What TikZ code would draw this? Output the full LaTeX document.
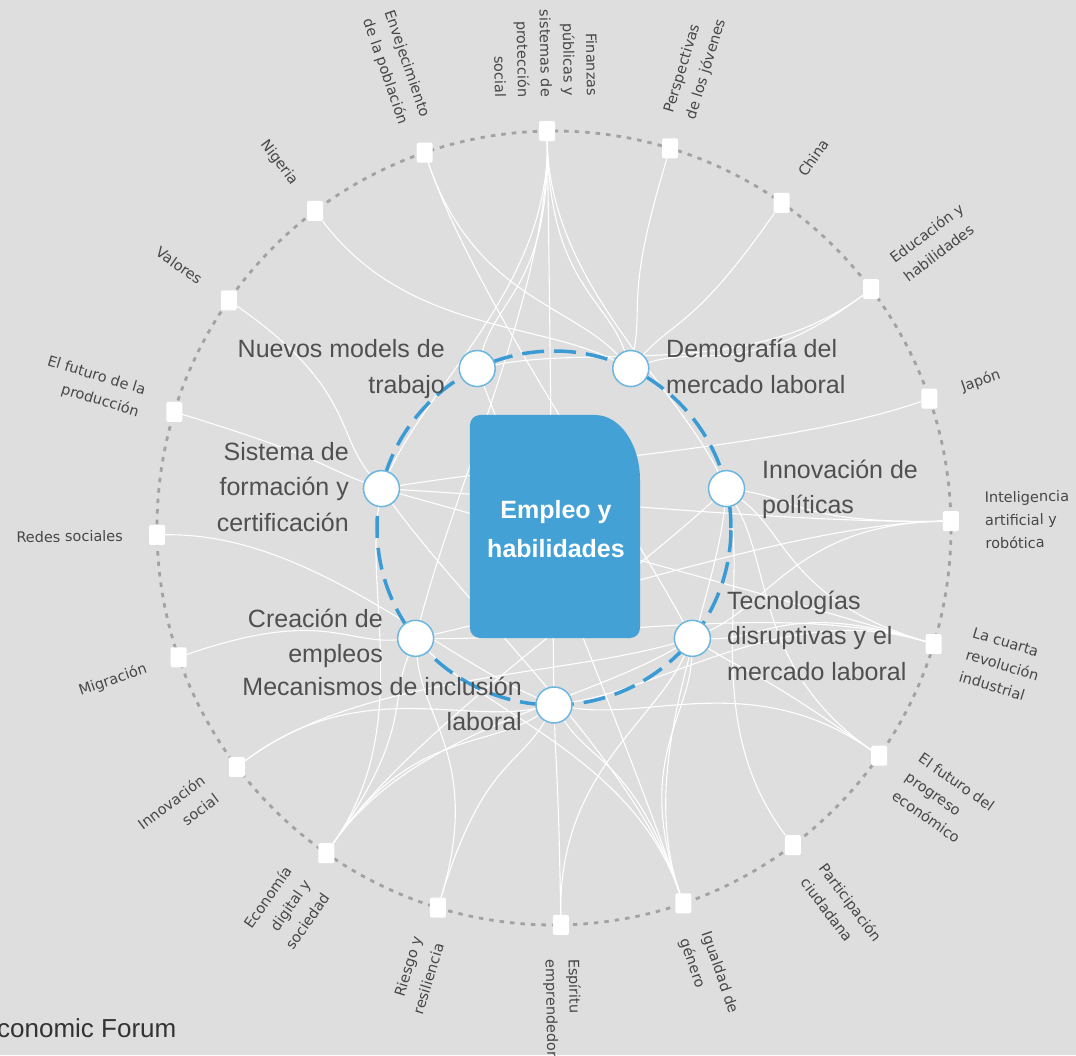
\documentclass[tikz,border=0pt]{standalone}
\usepackage{fontspec}
\setmainfont{Liberation Sans}
\newfontfamily\outerfont{DejaVu Sans}
\usetikzlibrary{calc}
\definecolor{bg}{HTML}{DEDEDE}
\definecolor{hubblue}{HTML}{43A1D5}
\definecolor{ringblue}{HTML}{3A9BD4}
\definecolor{circedge}{HTML}{6DB6E0}
\definecolor{dotgray}{HTML}{A2A2A2}
\definecolor{lbl}{HTML}{505050}
\definecolor{olbl}{HTML}{474747}
\pgfdeclarelayer{bglayer}
\pgfdeclarelayer{linklayer}
\pgfsetlayers{bglayer,linklayer,main}
\tikzset{
  onode/.style={rectangle, fill=white, minimum width=16pt, minimum height=20pt, inner sep=0pt, rounded corners=2pt},
  inode/.style={circle, fill=white, draw=circedge, line width=1.5pt, minimum size=36pt, inner sep=0pt},
  link/.style={draw=white, line width=1.1pt, line cap=round},
  olabR/.style={font=\outerfont\fontsize{14.5}{23}\selectfont, text=olbl, inner sep=0pt, anchor=west, align=left, rotate=#1},
  olabL/.style={font=\outerfont\fontsize{14.5}{23}\selectfont, text=olbl, inner sep=0pt, anchor=east, align=right, rotate=#1},
  ilabR/.style={font=\fontsize{25}{35.5}\selectfont, text=lbl, inner sep=0pt, anchor=west, align=left},
  ilabL/.style={font=\fontsize{25}{35.5}\selectfont, text=lbl, inner sep=0pt, anchor=east, align=right}
}
\begin{document}
\begin{tikzpicture}[x=1pt,y=1pt]
\useasboundingbox (-554,-527) rectangle (522,528);
\begin{pgfonlayer}{bglayer}
  \fill[bg] (-554,-527) rectangle (522,528);
  \draw[dotgray, line width=2.8pt, dash pattern=on 4.5pt off 6pt] (0,0) circle[radius=397];
\end{pgfonlayer}
\coordinate (c) at (0,0);

% dashed inner ring
\draw[ringblue, line width=3.5pt, dash pattern=on 22pt off 10pt] (c) circle[radius=177];

% hub box
\fill[hubblue] (-74,113) -- (41,113) arc[start angle=90,end angle=0,x radius=45,y radius=65]
  -- (86,-100) arc[start angle=0,end angle=-90,radius=10]
  -- (-74,-110) arc[start angle=270,end angle=180,radius=10]
  -- (-84,103) arc[start angle=180,end angle=90,radius=10] -- cycle;
\node[font=\bfseries\fontsize{25}{39}\selectfont, text=white, align=center, inner sep=0pt] (hub) at (2,-1.5) {Empleo y\\habilidades};

% inner nodes
\node[inode] (mec) at (-90:177) {};
\node[inode] (tec) at (-38.57:177) {};
\node[inode] (inn) at (12.86:177) {};
\node[inode] (dem) at (64.29:177) {};
\node[inode] (nue) at (115.71:177) {};
\node[inode] (sis) at (167.14:177) {};
\node[inode] (cre) at (218.57:177) {};

% inner labels
\node[ilabL] (lnue) at (-109,159) {Nuevos models de\\trabajo};
\node[ilabL] (lsis) at (-205,41) {Sistema de\\formación y\\certificación};
\node[ilabL] (lcre) at (-171,-110.5) {Creación de\\empleos};
\node[ilabL] (lmec) at (-32,-176) {Mecanismos de inclusión\\laboral};
\node[ilabR] (ldem) at (112,161.5) {Demografía del\\mercado laboral};
\node[ilabR] (linn) at (208,38.5) {Innovación de\\políticas};
\node[ilabR] (ltec) at (173,-107.5) {Tecnologías\\disruptivas y el\\mercado laboral};

% outer nodes
\foreach \k in {0,...,19} {
  \node[onode] (o\k) at ({91-18*\k}:397) {};
}

% outer labels
\node[olabL=-89] (t0) at (91:431) {Finanzas\\públicas y\\sistemas de\\protección\\social};
\node[olabR=73] (t1) at (73:431) {Perspectivas\\de los jóvenes};
\node[olabR=55] (t2) at (55:431) {China};
\node[olabR=37] (t3) at (37:431) {Educación y\\habilidades};
\node[olabR=19] (t4) at (19:431) {Japón};
\node[olabR=1] (t5) at (1:431) {Inteligencia\\artificial y\\robótica};
\node[olabR=-17] (t6) at (-17:431) {La cuarta\\revolución\\industrial};
\node[olabR=-35] (t7) at (-35:431) {El futuro del\\progreso\\económico};
\node[olabR=-53] (t8) at (-53:431) {Participación\\ciudadana};
\node[olabR=-71] (t9) at (-71:431) {Igualdad de\\género};
\node[olabR=-89] (t10) at (-89:431) {Espíritu\\emprendedor};
\node[olabL=73] (t11) at (-107:431) {Riesgo y\\resiliencia};
\node[olabL=55] (t12) at (-125:431) {Economía\\digital y\\sociedad};
\node[olabL=37] (t13) at (-143:431) {Innovación\\social};
\node[olabL=19] (t14) at (-161:431) {Migración};
\node[olabL=1] (t15) at (-179:431) {Redes sociales};
\node[olabL=-17] (t16) at (163:431) {El futuro de la\\producción};
\node[olabL=-35] (t17) at (145:431) {Valores};
\node[olabL=-53] (t18) at (127:431) {Nigeria};
\node[olabL=-71] (t19) at (109:431) {Envejecimiento\\de la población};

% footer
\node[font=\fontsize{26}{30}\selectfont, text=black!80, anchor=base west, inner sep=0pt] (foot) at (-557,-509) {conomic Forum};

% links
\begin{pgfonlayer}{linklayer}
\foreach \a/\b in {o0/sis,o0/nue,o0/cre,o0/mec,o0/dem,o0/inn,
  o1/dem, o2/dem, o3/dem,o3/nue, o4/sis,
  o5/inn,o5/tec,o5/sis,o5/cre,
  o6/tec,o6/inn,o6/cre,o6/sis,o6/mec,
  o7/inn,o7/tec,o7/mec, o8/inn,
  o9/mec,o9/cre,o9/sis,o9/nue,o9/inn,o9/tec,
  o10/mec,o10/tec, o11/cre,o11/mec,
  o12/cre,o12/mec,o12/tec,o12/inn,o12/sis,
  o13/mec,o13/tec, o14/cre, o15/mec, o16/sis, o17/sis, o18/dem,
  o19/dem,o19/tec} {
  \draw[link] (\a) .. controls ($(\a)!0.38!(c)$) and ($(\b)!0.3!(\a)$) .. (\b);
}
\end{pgfonlayer}
\end{tikzpicture}
\end{document}
